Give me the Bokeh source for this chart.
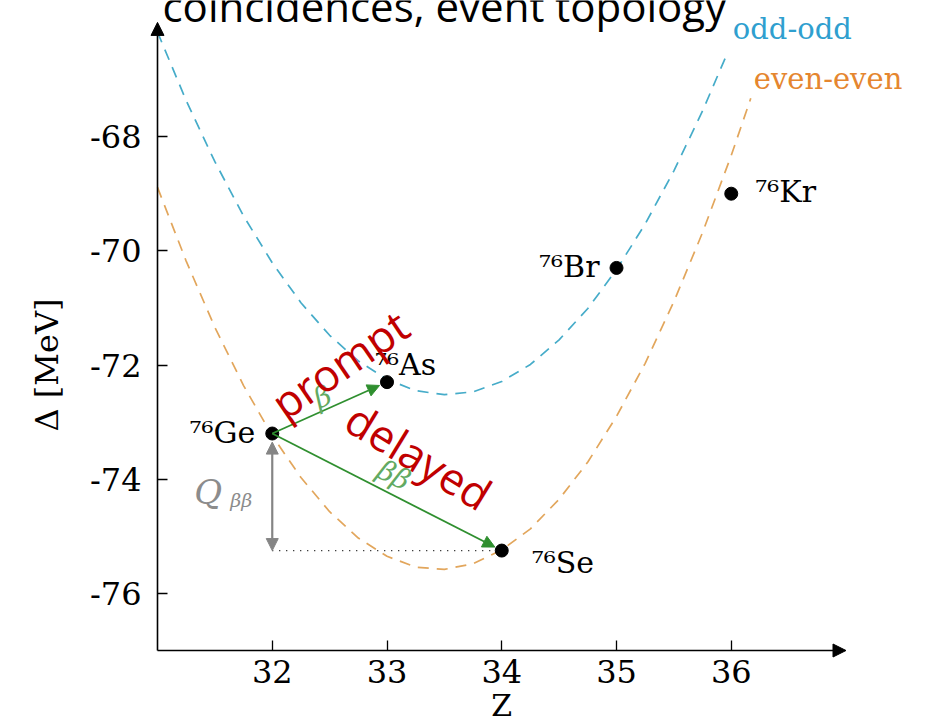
from bokeh.plotting import figure
from bokeh.models import ColumnDataSource, Arrow, NormalHead, Label, Range1d, FixedTicker
from bokeh.embed import file_html
from bokeh.resources import INLINE
from bokeh.core.properties import value
import math

# ---------------- data ----------------
mass_number = "76"
elements = ["Ge", "As", "Se", "Br", "Kr"]
Z = [32, 33, 34, 35, 36]
delta = [-73.2, -72.3, -75.25, -70.3, -69.0]

odd_z = [31.0, 31.25, 31.5, 31.75, 32.0, 32.25, 32.5, 32.75, 33.0, 33.25, 33.5,
         33.75, 34.0, 34.25, 34.5, 34.75, 35.0, 35.25, 35.5, 35.75, 35.97]
odd_delta = [-66.17, -67.37, -68.44, -69.39, -70.21, -70.91, -71.48, -71.93, -72.25,
             -72.45, -72.52, -72.47, -72.29, -71.99, -71.56, -71.01, -70.33, -69.53,
             -68.60, -67.55, -66.52]

even_z = [31.0, 31.25, 31.5, 31.75, 32.0, 32.25, 32.5, 32.75, 33.0, 33.25, 33.5,
          33.75, 34.0, 34.25, 34.5, 34.75, 35.0, 35.25, 35.5, 35.75, 36.0, 36.17]
even_delta = [-68.89, -70.18, -71.34, -72.36, -73.24, -73.97, -74.57, -75.03, -75.35,
              -75.54, -75.58, -75.48, -75.24, -74.87, -74.35, -73.70, -72.90, -71.97,
              -70.89, -69.68, -68.33, -67.33]

x_ticks = [32, 33, 34, 35, 36]
x_tick_labels = ["32", "33", "34", "35", "36"]
y_ticks = [-76, -74, -72, -70, -68]
y_tick_labels = ["-76", "-74", "-72", "-70", "-68"]

axis_z = [31.0, 37.0]          # extent of the Z axis arrow
axis_delta = [-77.0, -66.0]    # extent of the Delta axis arrow

title_text = "coincidences, event topology"

# ---------------- layout ----------------
W, H = 933, 724
AX_X, AX_Y = 157, 650          # pixel position of the axis origin
PXX, PXY = 114.75, 57.1        # pixels per unit
x0 = axis_z[0] - AX_X / PXX
x1 = x0 + W / PXX
y0 = axis_delta[0] - (H - AX_Y) / PXY
y1 = y0 + H / PXY

p = figure(width=W, height=H, x_range=Range1d(x0, x1), y_range=Range1d(y0, y1),
           min_border=0, output_backend="svg", toolbar_location=None,
           background_fill_color="white", border_fill_color="white")
p.outline_line_color = None
p.grid.visible = False

SERIF = "DejaVu Serif"

p.xaxis.fixed_location = axis_delta[0]
p.yaxis.fixed_location = axis_z[0]
p.xaxis.ticker = FixedTicker(ticks=x_ticks)
p.xaxis.major_label_overrides = {t: l for t, l in zip(x_ticks, x_tick_labels)}
p.yaxis.ticker = FixedTicker(ticks=y_ticks)
p.yaxis.major_label_overrides = {t: l for t, l in zip(y_ticks, y_tick_labels)}
for ax in (p.xaxis, p.yaxis):
    ax.axis_line_color = None
    ax.major_tick_in = 10
    ax.major_tick_out = 0
    ax.major_tick_line_color = "black"
    ax.major_tick_line_width = 1.3
    ax.minor_tick_line_color = None
    ax.major_label_text_font = SERIF
    ax.major_label_text_font_size = "32px"
    ax.major_label_text_color = "black"
p.xaxis.major_label_standoff = 9
p.yaxis.major_label_standoff = 16

# axis arrows
p.add_layout(Arrow(end=NormalHead(size=13, fill_color="black", line_color="black"),
                   x_start=axis_z[0], y_start=axis_delta[0], x_end=axis_z[0], y_end=axis_delta[1],
                   line_color="black", line_width=1.6))
p.add_layout(Arrow(end=NormalHead(size=13, fill_color="black", line_color="black"),
                   x_start=axis_z[0], y_start=axis_delta[0], x_end=axis_z[1], y_end=axis_delta[0],
                   line_color="black", line_width=1.6))

# axis labels
p.add_layout(Label(x=axis_z[0], y=(y_ticks[0] + y_ticks[-1]) / 2, x_offset=-111, text="Δ [MeV]",
                   angle=math.pi / 2, text_font=SERIF, text_font_size="32px",
                   text_align="center", text_baseline="middle", text_color="black"))
p.add_layout(Label(x=(x_ticks[0] + x_ticks[-1]) / 2, y=axis_delta[0], y_offset=-55, text="Z",
                   text_font=SERIF, text_font_size="30px", text_align="center",
                   text_baseline="middle", text_color="black"))

# curves
ODD_C, EVEN_C = "#46acc9", "#e2a65c"
p.line(odd_z, odd_delta, line_color=ODD_C, line_width=1.7, line_dash="11 8")
p.line(even_z, even_delta, line_color=EVEN_C, line_width=1.7, line_dash="11 8")
p.add_layout(Label(x=odd_z[-1], y=odd_delta[-1], x_offset=5, y_offset=23, text="odd-odd",
                   text_font=SERIF, text_font_size="29px", text_color="#2f9fcf",
                   text_baseline="alphabetic"))
p.add_layout(Label(x=even_z[-1], y=even_delta[-1], x_offset=3, y_offset=19, text="even-even",
                   text_font=SERIF, text_font_size="29px", text_color="#e5862f",
                   text_baseline="alphabetic"))

# dotted Q-value level line
p.line([Z[0], Z[2]], [delta[2], delta[2]], line_color="black", line_width=1.2, line_dash="1 6")

# green decay arrows
GREEN = "#2f8f2f"
for k, f in ((1, 0.935), (2, 0.97)):
    xe = Z[0] + f * (Z[k] - Z[0])
    ye = delta[0] + f * (delta[k] - delta[0])
    p.add_layout(Arrow(end=NormalHead(size=12, fill_color=GREEN, line_color=GREEN),
                       x_start=Z[0], y_start=delta[0], x_end=xe, y_end=ye,
                       line_color=GREEN, line_width=1.8))

# Q arrow
GREY = "#858585"
p.add_layout(Arrow(start=NormalHead(size=12, fill_color=GREY, line_color=GREY),
                   end=NormalHead(size=12, fill_color=GREY, line_color=GREY),
                   x_start=Z[0], y_start=delta[0] - 0.15, x_end=Z[0], y_end=delta[2],
                   line_color=GREY, line_width=2.2))

# nuclide points
p.scatter(Z, delta, size=13, color="black")

sup = str.maketrans("0123456789", "⁰¹²³⁴⁵⁶⁷⁸⁹")
names = [mass_number.translate(sup) + e for e in elements]
right_idx = [0, 3]
left_idx = [1, 2, 4]
left_dx = {1: -12, 2: 30, 4: 24}
left_dy = {1: -18, 2: 12, 4: -2}
src_r = ColumnDataSource(dict(x=[Z[i] for i in right_idx], y=[delta[i] for i in right_idx],
                              t=[names[i] for i in right_idx]))
src_l = ColumnDataSource(dict(x=[Z[i] for i in left_idx], y=[delta[i] for i in left_idx],
                              t=[names[i] for i in left_idx],
                              dx=[left_dx[i] for i in left_idx], dy=[left_dy[i] for i in left_idx]))
p.text(x="x", y="y", text="t", source=src_r, text_align="right", text_baseline="alphabetic",
       x_offset=-17, y_offset=-1, text_font=value(SERIF), text_font_size="30px", text_color="black")
p.text(x="x", y="y", text="t", source=src_l, text_align="left", text_baseline="alphabetic",
       x_offset="dx", y_offset="dy", text_font=value(SERIF), text_font_size="30px", text_color="black")

# beta labels
LGREEN = "#62aa62"
mx1, my1 = (Z[0] + Z[1]) / 2, (delta[0] + delta[1]) / 2
mx2, my2 = (Z[0] + Z[2]) / 2, (delta[0] + delta[2]) / 2
p.add_layout(Label(x=mx1, y=my1, x_offset=-7, y_offset=11, text="β", angle=0.42,
                   text_font=SERIF, text_font_style="italic", text_font_size="28px",
                   text_color=LGREEN, text_align="center", text_baseline="middle"))
p.add_layout(Label(x=mx2, y=my2, x_offset=7, y_offset=17, text="ββ", angle=-0.47,
                   text_font=SERIF, text_font_style="italic", text_font_size="28px",
                   text_color=LGREEN, text_align="center", text_baseline="middle"))
qy = (delta[0] + delta[2]) / 2
p.add_layout(Label(x=Z[0], y=qy, x_offset=-64, y_offset=0, text="Q",
                   text_font=SERIF, text_font_style="italic", text_font_size="34px",
                   text_color="#8c8c8c", text_align="center", text_baseline="middle"))
p.add_layout(Label(x=Z[0], y=qy, x_offset=-31, y_offset=-8, text="ββ",
                   text_font=SERIF, text_font_style="italic", text_font_size="19px",
                   text_color="#8c8c8c", text_align="center", text_baseline="middle"))

# red overlay texts
RED = "#c00000"
p.add_layout(Label(x=mx1, y=my1, x_offset=10, y_offset=44, text="prompt", angle=0.6,
                   text_font="Open Sans", text_font_size="44px", text_color=RED,
                   text_align="center", text_baseline="middle"))
p.add_layout(Label(x=mx2, y=my2, x_offset=32, y_offset=36, text="delayed", angle=-0.55,
                   text_font="Open Sans", text_font_size="44px", text_color=RED,
                   text_align="center", text_baseline="middle"))

# title (cut at the top as in the slide)
p.add_layout(Label(x=axis_z[0], y=y1, x_offset=5, y_offset=-5, text=title_text,
                   text_font="Open Sans", text_font_size="42px", text_color="black",
                   text_baseline="alphabetic"))

open("out.html", "w").write(file_html(p, INLINE))
